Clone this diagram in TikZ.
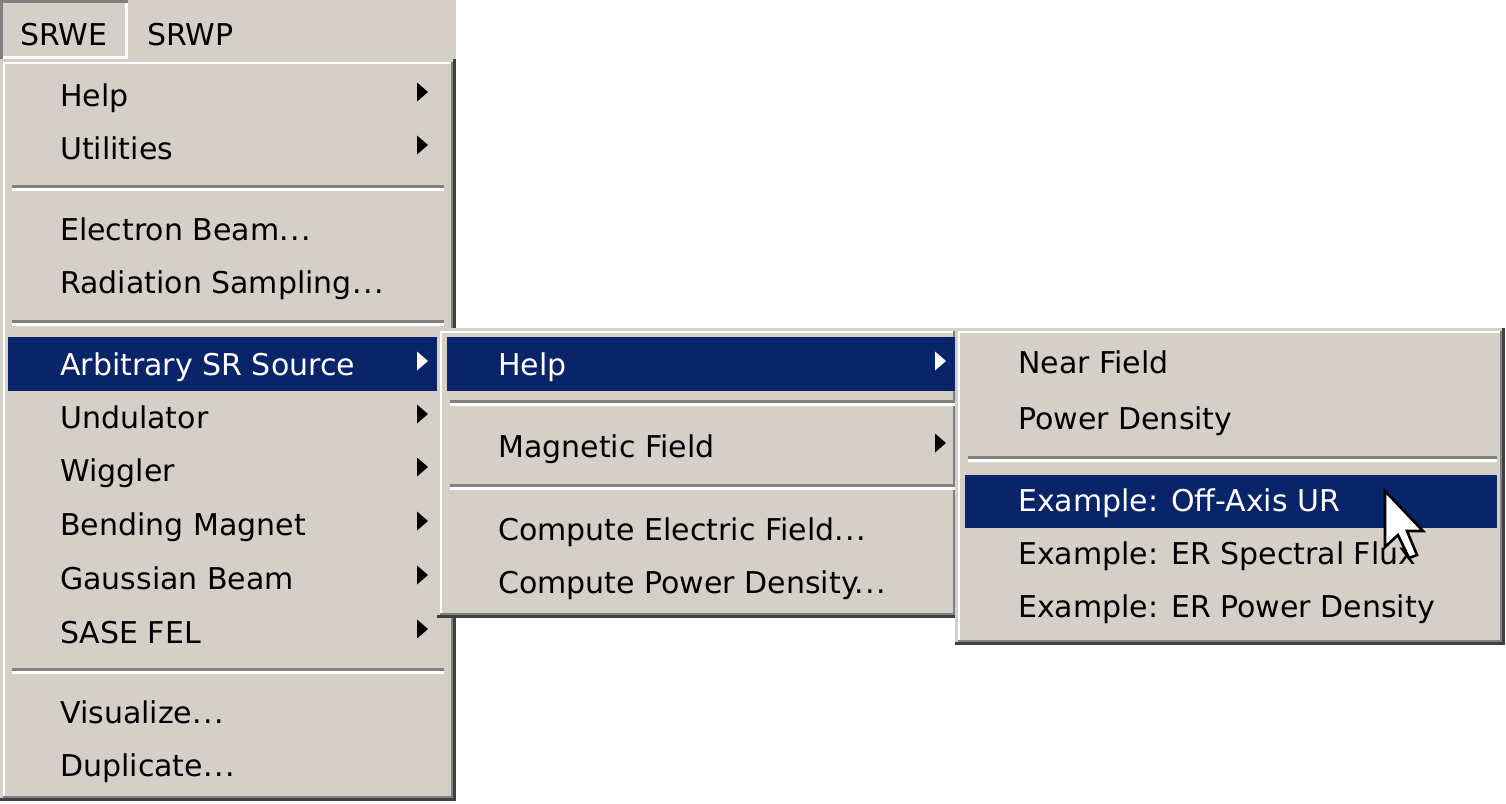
\documentclass[tikz,border=0pt]{standalone}
\usepackage{fontspec}
\setmainfont{DejaVu Sans}
\definecolor{menugray}{HTML}{D4D0C8}
\definecolor{menunavy}{HTML}{0A246A}
\definecolor{menushade}{HTML}{808080}
\definecolor{menudark}{HTML}{404040}
\newcommand\menufont{\fontsize{30}{36}\selectfont}
\newcommand\mdots{.\kern1.5pt.\kern1.5pt.}
% raised panel: x1 y1 x2 y2
\newcommand\menupanel[4]{%
  \fill[menugray] (#1,#2) rectangle (#3,#4);
  \fill[white] (#1+2.7,#2+2.7) rectangle (#3-2.7,#2+5.4);
  \fill[white] (#1+2.7,#2+2.7) rectangle (#1+5.4,#4-2.7);
  \fill[menushade] (#3-5.4,#2+2.7) rectangle (#3-2.7,#4-2.7);
  \fill[menushade] (#1+2.7,#4-5.4) rectangle (#3-2.7,#4-2.7);
  \fill[menudark] (#3-2.7,#2) rectangle (#3,#4);
  \fill[menudark] (#1,#4-2.7) rectangle (#3,#4);}
% separator: x1 x2 y
\newcommand\menusep[3]{%
  \fill[menushade] (#1,#3) rectangle (#2,#3+3.2);
  \fill[white] (#1,#3+3.2) rectangle (#2,#3+6.2);}
\tikzset{
  menuitem/.style={anchor=base west, inner sep=0pt, font=\menufont},
  hotitem/.style={menuitem, text=white},
  submark/.pic={\fill (0,-9.5) -- (11,0) -- (0,9.5) -- cycle;}
}
\begin{document}
\begin{tikzpicture}[x=1pt, y=-1pt]
  \useasboundingbox (0,0) rectangle (1506,803);
  % menu bar
  \fill[menugray] (0,0) rectangle (456,59);
  \fill[menushade] (0,0) rectangle (128,3);
  \fill[menushade] (0,0) rectangle (3,59);
  \fill[white] (125,3) rectangle (128,59);
  \fill[white] (3,56) rectangle (128,59);
  \node[menuitem] (bar-srwe) at (20,45) {SRWE};
  \node[menuitem] (bar-srwp) at (147,45) {SRWP};
  % main menu
  \menupanel{0}{59}{456}{801}
  \fill[menunavy] (8,337) rectangle (437,391);
  \foreach \y in {185,320,668} \menusep{12}{444}{\y};
  \foreach \y/\s/\t [count=\i] in {106/menuitem/Help, 159/menuitem/Utilities,
      240/menuitem/Electron Beam\mdots, 293/menuitem/Radiation Sampling\mdots,
      375/hotitem/Arbitrary SR Source, 428/menuitem/Undulator,
      481/menuitem/Wiggler, 535/menuitem/Bending Magnet,
      589/menuitem/Gaussian Beam, 643/menuitem/SASE FEL,
      723/menuitem/Visualize\mdots, 776/menuitem/Duplicate\mdots}
    \node[\s] (m-\i) at (60,\y) {\t};
  \foreach \y in {106,159,428,481,535,589,643} \pic at (417,\y-14) {submark};
  \pic[white] at (417,375-14) {submark};
  % first submenu
  \menupanel{437}{328}{958}{618}
  \fill[menunavy] (447,337) rectangle (955,391);
  \foreach \y in {400,484} \menusep{450}{955}{\y};
  \foreach \y/\s/\t [count=\i] in {375/hotitem/Help, 457/menuitem/Magnetic Field,
      540/menuitem/Compute Electric Field\mdots, 593/menuitem/Compute Power Density\mdots}
    \node[\s] (a-\i) at (498,\y) {\t};
  \pic[white] at (935,375-14) {submark};
  \pic at (935,457-14) {submark};
  % second submenu
  \menupanel{955}{328}{1505}{645}
  \fill[menunavy] (965,475) rectangle (1497,528);
  \menusep{968}{1497}{456}
  \foreach \y/\s/\t [count=\i] in {373/menuitem/Near Field, 429/menuitem/Power Density,
      511/hotitem/Example: Off-Axis UR, 564/menuitem/Example: ER Spectral Flux,
      617/menuitem/Example: ER Power Density}
    \node[\s] (b-\i) at (1018,\y) {\t};
  % mouse pointer
  \filldraw[fill=white, draw=black, line width=2.6pt, line join=miter]
    (1385,491) -- (1385,547) -- (1398,535) -- (1409,558) -- (1417,555)
    -- (1407,531) -- (1423,531) -- cycle;
\end{tikzpicture}
\end{document}
